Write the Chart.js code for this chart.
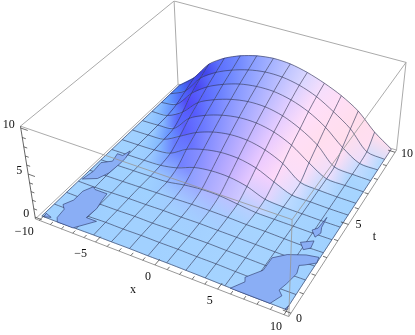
<!doctype html>
<html><head><meta charset="utf-8"><style>html,body{margin:0;padding:0;background:#fff}canvas{display:block}</style>
<script src="https://cdn.jsdelivr.net/npm/chart.js@4/dist/chart.umd.min.js"></script></head>
<body><canvas id="c" width="415" height="335"></canvas>
<script>
const xValues=[-10,-8.46,-6.92,-5.38,-3.85,-2.31,-.77,.77,2.31,3.85,5.38,6.92,8.46,10];
const tValues=[0,.77,1.54,2.31,3.08,3.85,4.62,5.38,6.15,6.92,7.69,8.46,9.23,10];
const z00=[0,0,.06,.1,.1,.12,.1,.12,.1,.08,.04,0,0,0];
const z01=[0,0,.05,.12,.1,.14,.12,.14,.1,.1,.05,.02,0,.02];
const z02=[.02,0,.08,.1,.15,.12,.16,.13,.14,.09,.06,.02,0,.04];
const z03=[.02,0,.06,.12,.13,.17,.15,.18,.14,.12,.08,.03,.02,.04];
const z04=[.02,.05,.08,.12,.16,.2,.26,.26,.22,.14,.12,.05,0,.03];
const z05=[.02,.03,.06,.08,.12,.46,.66,.64,.38,.12,.08,.05,.02,.03];
const z06=[.02,.03,.05,.12,.5,1.25,1.55,1.52,1.11,.3,.12,.07,.03,.03];
const z07=[.02,.03,.08,.35,1.5,2.15,2.49,2.46,2,1.04,.16,.1,.04,.03];
const z08=[.02,.04,.16,1.2,2.3,3.02,3.38,3.35,2.87,1.93,.34,.14,.05,.03];
const z09=[.02,.08,.3,2.2,3.2,3.85,4.2,4.19,3.76,2.85,1.4,.16,.08,.03];
const z10=[.02,.12,1.2,3,3.95,4.6,4.95,4.94,4.5,3.6,2.3,.3,.1,.03];
const z11=[.03,.4,2.4,3.8,4.7,5.33,5.63,5.63,5.23,4.44,3.2,1.42,.12,.03];
const z12=[.03,1,3.2,4.5,5.35,5.95,6.27,6.25,5.86,5.1,3.9,2.46,.3,.04];
const z13=[.04,1.6,3.9,5.2,6.05,6.6,6.85,6.75,6.3,5.6,4.7,3.45,1.5,.05];
const heights=[z00,z01,z02,z03,z04,z05,z06,z07,z08,z09,z10,z11,z12,z13];
const patchA=[[-8.9,.2],[-9,.7],[-9.4,.9],[-9,1.3],[-9,1.9],[-8.6,2.3],[-8.3,2.2],[-7.2,2.2],[-7.1,1.8],[-6.9,1.3],[-7,.7],[-6.1,.7],[-7.2,0],[-8.6,0]];
const patchB=[[-9.9,2.5],[-9.7,3.1],[-9.8,3.7],[-9.1,4],[-9.3,4.5],[-8.8,4.5],[-8.6,4.9],[-8.4,4.4],[-8.4,4],[-8.5,3.3],[-8.9,2.8]];
const patchC=[[5.8,0],[6.4,.5],[6.2,.7],[7,1.3],[7,2],[7.8,2.4],[9,2.7],[9.9,2.8],[10,2.5],[9.3,2.2],[9,2.1],[9.2,1.7],[9,1.1],[8.8,.7],[9.2,.5],[8.8,0]];
const patchD=[[8.1,3.2],[8.9,3.5],[9,3.1],[8.6,2.9]];
const patchE=[[8.3,4],[8.6,4.2],[8.7,4.9],[8.8,4.3],[9,4],[8.8,3.7]];
const patchF=[[-9.8,0],[-9.9,.2],[-9.3,.1]];
const patchG=[[9.9,0],[10,.2],[10,0]];
const patches=[patchA,patchB,patchC,patchD,patchE,patchF,patchG];
const xTicks=[-10,-5,0,5,10],tTicks=[0,5,10],zTicks=[0,5,10];
const xTitle='x',tTitle='t';

// camera fitted to the box
function P(x,t,z){const s=(x+10.35)/20.7,r=(t+.17)/10.34,w=(z+.2)/10.4;
 const m=-.1075*s+.2128*r-.066*w+1;
 return {x:(222.93*s+180.88*r-16.32*w+35)/m,y:(63.92*s-117.12*r-101.3*w+219)/m};}
const X0=-10.35,X1=10.35,T0=-.17,T1=10.17,Z0=-.2,Z1=10.2,N=xValues.length-1;
function slope(i,j){const a=Math.max(i-1,0),b=Math.min(i+1,N),c=Math.max(j-1,0),d=Math.min(j+1,N);
 return {p:.8*(heights[j][b]-heights[j][a])/(xValues[b]-xValues[a]),q:.4*(heights[d][i]-heights[c][i])/(tValues[d]-tValues[c])};}
const cl=(v,a,b)=>Math.max(a,Math.min(b,v));
function ramp(p,xs,ys){if(p<=xs[0])return ys[0];for(let k=1;k<xs.length;k++)if(p<=xs[k])return ys[k-1]+(ys[k]-ys[k-1])*(p-xs[k-1])/(xs[k]-xs[k-1]);return ys[ys.length-1];}
const PS=[0,.2,.4,.8,1];
function shade(i,j){const {p,q}=slope(i,j);
 const Rb=162+30*q,Gb=210-90*q;
 if(p>0){return [cl(Rb-ramp(p,PS,[0,30,68,95,115]),60,255),cl(Gb-ramp(p,PS,[0,18,48,86,120]),52,230),ramp(p,PS,[255,255,255,252,226])];}
 return [cl(Rb-160*p,60,255),cl(Gb-90*p,150,222),cl(255-40*Math.max(0,-p-.4),222,255)];}
const mix=(a,b)=>a.map((v,k)=>(v+b[k])/2);
const css=c=>`rgb(${c.map(Math.round).join(',')})`;
function cellFill(chart,i,j){const sx=chart.scales.x,sy=chart.scales.y;
 const c00=shade(i,j),c10=shade(i+1,j),c01=shade(i,j+1),c11=shade(i+1,j+1);
 const L=mix(c00,c01),Rr=mix(c10,c11),F=mix(c00,c10),Bk=mix(c01,c11);
 const dist=(a,b)=>a.reduce((n,v,k)=>n+Math.abs(v-b[k]),0);
 const h=(a,b)=>(heights[b][a]);
 const xm=(xValues[i]+xValues[i+1])/2,tm=(tValues[j]+tValues[j+1])/2;
 let A,Bb,ca,cb;
 if(dist(L,Rr)>=dist(F,Bk)){A=P(xValues[i],tm,(h(i,j)+h(i,j+1))/2);Bb=P(xValues[i+1],tm,(h(i+1,j)+h(i+1,j+1))/2);ca=L;cb=Rr;}
 else{A=P(xm,tValues[j],(h(i,j)+h(i+1,j))/2);Bb=P(xm,tValues[j+1],(h(i,j+1)+h(i+1,j+1))/2);ca=F;cb=Bk;}
 const g=chart.ctx.createLinearGradient(sx.getPixelForValue(A.x),sy.getPixelForValue(A.y),sx.getPixelForValue(Bb.x),sy.getPixelForValue(Bb.y));
 g.addColorStop(0,css(ca));g.addColorStop(1,css(cb));return {g,edge:css(mix(ca,cb))};}
const line=(pts,color,width,extra)=>Object.assign({data:pts,showLine:true,borderColor:color,borderWidth:width,pointRadius:0,fill:false,tension:0,spanGaps:false},extra||{});

const layers=[];
const back=[[[X0,T1,Z0],[X0,T1,Z1]],[[X0,T1,Z1],[X0,T0,Z1]],[[X0,T1,Z1],[X1,T1,Z1]],[[X1,T1,Z1],[X1,T1,Z0]],[[X0,T1,Z0],[X1,T1,Z0]],[[X0,T1,Z0],[X0,T0,Z0]]];
back.forEach(e=>layers.push(line(e.map(p=>P(...p)),'#aaaaaa',1)));
for(let j=N-1;j>=0;j--)for(let i=0;i<N;i++){
 const q=[[i,j],[i+1,j],[i+1,j+1],[i,j+1],[i,j]].map(([a,b])=>P(xValues[a],tValues[b],heights[b][a]));
 layers.push(line(q,'#a0d0ff',.8,{fill:'shape',backgroundColor:'#a0d0ff',cell:[i,j]}));
}
const meshColor='rgba(48,52,84,.82)';
for(let j=0;j<=N;j++)layers.push(line(xValues.map((x,i)=>P(x,tValues[j],heights[j][i])),meshColor,.75,{tension:.3}));
for(let i=0;i<=N;i++)layers.push(line(tValues.map((t,j)=>P(xValues[i],t,heights[j][i])),meshColor,.75,{tension:.3}));
patches.forEach(pg=>layers.push(line(pg.concat([pg[0]]).map(p=>P(p[0],p[1],0)),'rgba(40,50,100,.85)',.7,{fill:'shape',backgroundColor:'#8aaef5'})));
const front=[[[X0,T0,Z1],[X1,T0,Z1]],[[X1,T0,Z1],[X1,T1,Z1]],[[X1,T0,Z0],[X1,T0,Z1]]];
front.forEach(e=>layers.push(line(e.map(p=>P(...p)),'rgba(150,150,150,.8)',1)));
layers.push(line([[X0,T0,Z0],[X1,T0,Z0]].map(p=>P(...p)),'#999999',1));
layers.push(line([[X1,T0,Z0],[X1,T1,Z0]].map(p=>P(...p)),'#999999',1));
layers.push(line([[X0,T0,Z0],[X0,T0,Z1]].map(p=>P(...p)),'#666666',1));
// tick marks
const tk=[];
for(let v=-10;v<=10;v++){const L=v%5===0?.32:.16;tk.push(P(v,T0,Z0),P(v,T0+L,Z0),{x:null,y:null});}
for(let v=0;v<=10;v++){const L=v%5===0?.6:.3;tk.push(P(X1,v,Z0),P(X1-L,v,Z0),{x:null,y:null});}
for(let v=0;v<=10;v+=1){const L=v%5===0?.6:.3;tk.push(P(X0,T0,v),P(X0+L,T0,v),{x:null,y:null});}
layers.push(line(tk,'#333333',.7));

const labels={id:'labels',afterDraw(ch){const c=ch.ctx,sx=ch.scales.x,sy=ch.scales.y;
 c.save();c.fillStyle='#111';c.font='12px "Liberation Serif"';c.textAlign='center';c.textBaseline='middle';
 const put=(s,p,dx,dy)=>c.fillText(s,sx.getPixelForValue(p.x)+dx,sy.getPixelForValue(p.y)+dy);
 const fmt=v=>v<0?'\u2212'+(-v):''+v;
 xTicks.forEach(v=>put(fmt(v),P(v,T0,Z0),v<0?-15:v===0?-7:-8,12));
 tTicks.forEach(v=>put(fmt(v),P(X1,v,Z0),v===0?8:v===5?10:12,v===0?6:v===5?0:2));
 zTicks.forEach(v=>put(fmt(v),P(X0,T0,v),v===10?-12:-9,-3));
 put(xTitle,P(0,T0,Z0),-22,25);
 put(tTitle,P(X1,5,Z0),26,12);
 c.restore();}};

const chart=new Chart(document.getElementById('c'),{type:'scatter',data:{datasets:layers.reverse()},plugins:[labels],
 options:{responsive:false,animation:false,events:[],layout:{padding:0},
  plugins:{legend:{display:false},tooltip:{enabled:false}},
  scales:{x:{type:'linear',min:0,max:415,display:false},y:{type:'linear',min:0,max:335,reverse:true,display:false}}}});
chart.data.datasets.forEach(d=>{if(d.cell){const f=cellFill(chart,d.cell[0],d.cell[1]);d.backgroundColor=f.g;d.borderColor=f.edge;}});
chart.update('none');
</script></body></html>
